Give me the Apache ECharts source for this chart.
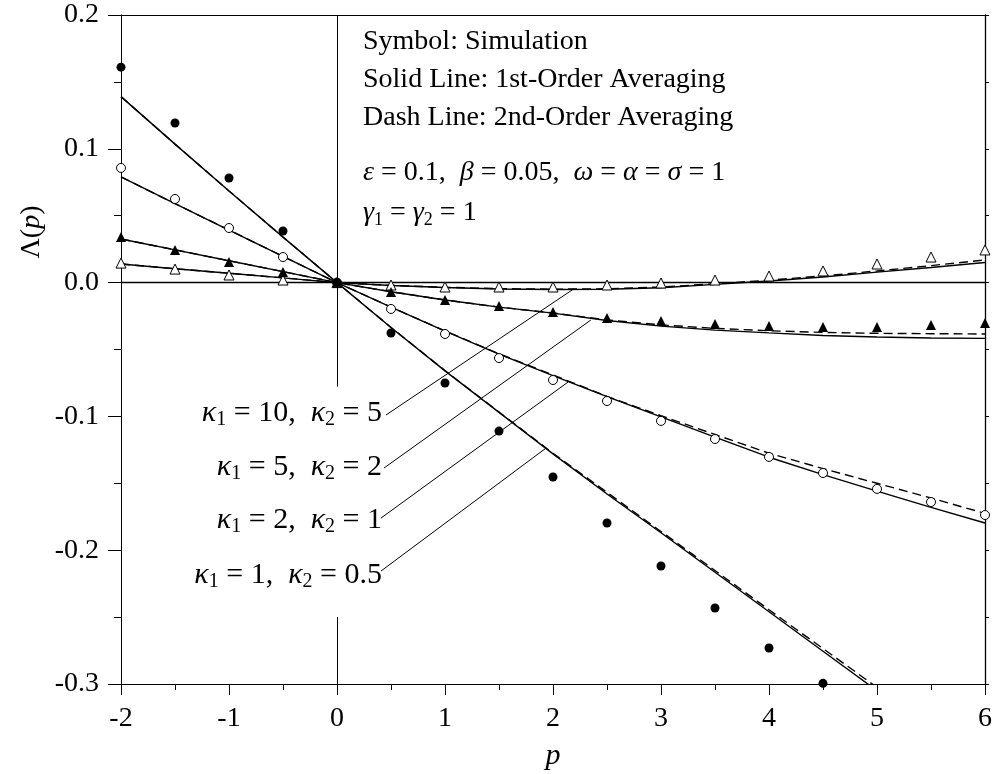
<!DOCTYPE html>
<html>
<head>
<meta charset="utf-8">
<script src="https://cdn.jsdelivr.net/npm/echarts@6/dist/echarts.min.js"></script>
<style>
html,body{margin:0;padding:0;background:#fff;}
#chart{width:995px;height:774px;}
</style>
</head>
<body>
<div id="chart"></div>
<script>
// ---- data ----
const pGrid = [-2,-1.5,-1,-0.5,0,0.5,1,1.5,2,2.5,3,3.5,4,4.5,5,5.5,6];
const xTickLabels = ['-2','-1','0','1','2','3','4','5','6'];
const yTickLabels = ['-0.3','-0.2','-0.1','0.0','0.1','0.2'];

// Simulation (symbols)
const simK10 = [0.0146,0.0101,0.0057,0.0019,0,-0.0018,-0.0033,-0.0033,-0.0033,-0.0018,-0.0003,0.0019,0.0049,0.0087,0.0139,0.0191,0.0244];
const simK5  = [0.0341,0.0244,0.0154,0.0079,0,-0.0071,-0.013,-0.0175,-0.022,-0.0265,-0.0287,-0.031,-0.0325,-0.0332,-0.0332,-0.0317,-0.0302];
const simK2  = [0.0857,0.0625,0.0408,0.0191,0,-0.0197,-0.0384,-0.0564,-0.0728,-0.0885,-0.1034,-0.1169,-0.1303,-0.1423,-0.1542,-0.164,-0.1737];
const simK1  = [0.161,0.1193,0.0782,0.0386,0,-0.0377,-0.075,-0.111,-0.1453,-0.1797,-0.2118,-0.2432,-0.2731,-0.2995];

// 1st-order averaging (solid)
const firstK10 = [0.0139,0.0104,0.007,0.0035,0,-0.0022,-0.0037,-0.0048,-0.0052,-0.005,-0.0038,-0.0013,0.0012,0.0042,0.0078,0.0113,0.015];
const firstK5  = [0.0326,0.0245,0.0163,0.0082,0,-0.0068,-0.013,-0.0183,-0.0228,-0.0283,-0.0325,-0.0355,-0.0376,-0.0395,-0.0407,-0.0414,-0.0417];
const firstK2  = [0.079,0.059,0.0393,0.0196,0,-0.0183,-0.0362,-0.0535,-0.0695,-0.0852,-0.1004,-0.1155,-0.1305,-0.1435,-0.1558,-0.168,-0.1797];
const firstK1  = [0.139,0.1035,0.0685,0.034,0,-0.0335,-0.066,-0.097,-0.128,-0.158,-0.187,-0.2165,-0.246,-0.2755,-0.305];

// 2nd-order averaging (dashed)
const secondK10 = [0.0139,0.0104,0.007,0.0035,0,-0.0021,-0.0035,-0.0045,-0.0049,-0.0046,-0.0033,-0.0009,0.0018,0.005,0.0087,0.0127,0.0169];
const secondK5  = [0.0326,0.0245,0.0163,0.0082,0,-0.0068,-0.013,-0.0183,-0.0227,-0.0279,-0.0316,-0.0342,-0.036,-0.0372,-0.0379,-0.0382,-0.0384];
const secondK2  = [0.079,0.059,0.0393,0.0196,0,-0.0183,-0.0361,-0.0532,-0.069,-0.085,-0.0995,-0.1135,-0.1275,-0.139,-0.15,-0.161,-0.1725];
const secondK1  = [0.139,0.1035,0.0685,0.034,0,-0.0335,-0.0658,-0.0967,-0.1275,-0.1568,-0.186,-0.2152,-0.2445,-0.2735,-0.3025];

// annotation leader lines (data coordinates: label end -> curve)
const leaderLines = [
  [[0.453,-0.099],[2.19,-0.0048]],
  [[0.435,-0.1386],[2.35,-0.028]],
  [[0.407,-0.176],[2.14,-0.0743]],
  [[0.407,-0.2156],[1.93,-0.124]]
];
const kappaLabels = [
  ['10','5'],
  ['5','2'],
  ['2','1'],
  ['1','0.5']
];

// ---- chart ----
const FONT = 'Liberation Serif';
const zip = vals => vals.map((v,i)=>[pGrid[i], v]);

const chart = echarts.init(document.getElementById('chart'), null, {renderer:'canvas'});

function lineSeries(vals, dashed){
  return {
    type:'line', data: zip(vals), showSymbol:false, symbol:'none',
    lineStyle:{color:'#000', width:1.4, type: dashed ? [9,5] : 'solid'},
    silent:true, z:2, clip:true
  };
}
function symSeries(vals, symbol, filled){
  return {
    type:'scatter', data: zip(vals), symbol: symbol,
    symbolSize: symbol==='triangle' ? 10 : 9,
    itemStyle: filled ? {color:'#000', opacity:1} : {color:'#fff', borderColor:'#000', borderWidth:1, opacity:1},
    silent:true, z:5, clip:true
  };
}

const yLabelMap = {};
[-0.3,-0.2,-0.1,0,0.1,0.2].forEach((v,i)=>{ yLabelMap[v.toFixed(1)] = yTickLabels[i]; });

const markLines = {
  symbol:['none','none'], silent:true, animation:false,
  label:{show:false},
  lineStyle:{color:'#000', width:1, type:'solid'},
  data: [
    {yAxis:0, lineStyle:{width:1.3}},
    [{coord:[0,0.2]},{coord:[0,-0.0778]}],
    [{coord:[0,-0.25]},{coord:[0,-0.3]}]
  ].concat(leaderLines.map(l=>[{coord:l[0]},{coord:l[1]}]))
};

function makeRich(sz){
  return {
    n:{fontFamily:FONT, fontSize:sz, color:'#000', lineHeight:sz+8},
    g:{fontFamily:FONT, fontSize:sz, fontStyle:'italic', color:'#000', lineHeight:sz+8},
    s:{fontFamily:FONT, fontSize:Math.round(sz*0.65), color:'#000', lineHeight:Math.round(sz*0.65), padding:[14,0,0,0]}
  };
}
const rich = makeRich(28);
const richK = makeRich(30);

const graphics = [
  {type:'text', x:363, y:42, style:{text:'Symbol: Simulation', font:'28px "Liberation Serif"', fill:'#000', align:'left', verticalAlign:'middle'}},
  {type:'text', x:363, y:80, style:{text:'Solid Line: 1st-Order Averaging', font:'28px "Liberation Serif"', fill:'#000', align:'left', verticalAlign:'middle'}},
  {type:'text', x:363, y:118, style:{text:'Dash Line: 2nd-Order Averaging', font:'28px "Liberation Serif"', fill:'#000', align:'left', verticalAlign:'middle'}},
  {type:'text', x:363, y:173, style:{text:'{g|ε}{n| = 0.1,  }{g|β}{n| = 0.05,  }{g|ω}{n| = }{g|α}{n| = }{g|σ}{n| = 1}', rich:rich, font:'28px "Liberation Serif"', fill:'#000', align:'left', verticalAlign:'middle'}},
  {type:'text', x:363, y:213, style:{text:'{g|γ}{s|1}{n| = }{g|γ}{s|2}{n| = 1}', rich:rich, font:'28px "Liberation Serif"', fill:'#000', align:'left', verticalAlign:'middle'}},
  {type:'text', x:32, y:232, rotation:Math.PI/2, style:{text:'{n|Λ(}{g|p}{n|)}', rich:rich, font:'28px "Liberation Serif"', fill:'#000', align:'center', verticalAlign:'middle'}},
  {type:'text', x:553, y:756, style:{text:'p', font:'italic 30px "Liberation Serif"', fill:'#000', align:'center', verticalAlign:'middle'}}
];
const kappaY = [413, 467, 520, 575];
kappaLabels.forEach((k,i)=>{
  graphics.push({type:'text', x:382, y:kappaY[i], style:{
    text:'{g|κ}{s|1}{n| = '+k[0]+',  }{g|κ}{s|2}{n| = '+k[1]+'}', rich:richK,
    font:'30px "Liberation Serif"', fill:'#000', align:'right', verticalAlign:'middle'}});
});

const option = {
  animation:false,
  backgroundColor:'#fff',
  grid:{left:121, right:9, top:15, bottom:90, containLabel:false},
  xAxis:[{
    type:'value', min:-2, max:6, interval:1, position:'bottom',
    axisLine:{show:true, onZero:false, lineStyle:{color:'#000', width:1}},
    axisTick:{show:true, inside:false, length:11, lineStyle:{color:'#000'}},
    minorTick:{show:true, splitNumber:2, length:6, lineStyle:{color:'#000'}},
    splitLine:{show:false},
    axisLabel:{margin:21, fontFamily:FONT, fontSize:28, color:'#000',
      formatter: v => xTickLabels[Math.round(v)+2]}
  },{
    type:'value', min:-2, max:6, interval:1, position:'top',
    axisLine:{show:true, onZero:false, lineStyle:{color:'#000', width:1}},
    axisTick:{show:false}, axisLabel:{show:false}, splitLine:{show:false}
  }],
  yAxis:[{
    type:'value', min:-0.3, max:0.2, interval:0.1, position:'left',
    axisLine:{show:true, onZero:false, lineStyle:{color:'#000', width:1}},
    axisTick:{show:true, inside:false, length:13, lineStyle:{color:'#000'}},
    minorTick:{show:true, splitNumber:2, length:7, lineStyle:{color:'#000'}},
    splitLine:{show:false},
    axisLabel:{margin:22, fontFamily:FONT, fontSize:28, color:'#000',
      formatter: v => yLabelMap[(Math.round(v*10)/10).toFixed(1)] || (Math.round(v*10)/10).toFixed(1)}
  },{
    type:'value', min:-0.3, max:0.2, interval:0.05, position:'right',
    axisLine:{show:true, onZero:false, lineStyle:{color:'#000', width:1.3}},
    axisTick:{show:true, inside:false, length:4, lineStyle:{color:'#000'}},
    axisLabel:{show:false}, splitLine:{show:false}
  }],
  graphic: graphics,
  series: [
    Object.assign(lineSeries(firstK10,false), {markLine: markLines}),
    lineSeries(firstK5,false),
    lineSeries(firstK2,false),
    lineSeries(firstK1,false),
    lineSeries(secondK10,true),
    lineSeries(secondK5,true),
    lineSeries(secondK2,true),
    lineSeries(secondK1,true),
    symSeries(simK10,'triangle',false),
    symSeries(simK5,'triangle',true),
    symSeries(simK2,'circle',false),
    symSeries(simK1,'circle',true)
  ]
};
chart.setOption(option);
</script>
</body>
</html>
